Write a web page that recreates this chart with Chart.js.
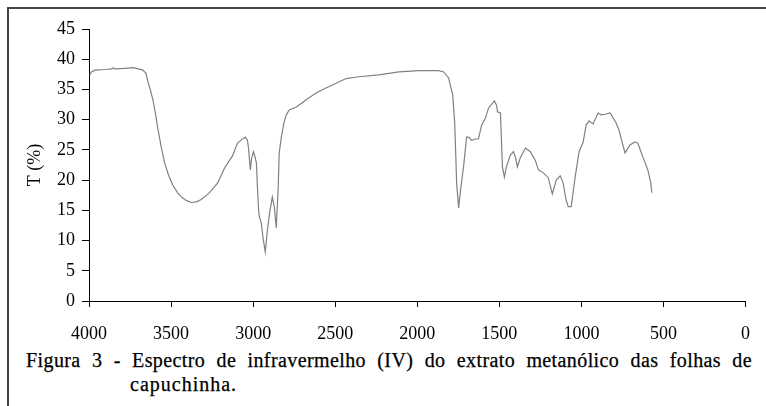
<!DOCTYPE html>
<html>
<head>
<meta charset="utf-8">
<script src="https://cdn.jsdelivr.net/npm/chart.js@4.4.0/dist/chart.umd.min.js"></script>
<style>
  body { margin: 0; background: #fff; }
  #wrap { position: relative; width: 766px; height: 406px; overflow: hidden; }
  #frame { position: absolute; left: 7px; top: 7px; width: 770px; height: 410px;
           border-top: 2px solid #444; border-left: 2px solid #444; }
  #chartBox { position: absolute; left: 0; top: 0; width: 766px; height: 345px; }
  .cap { position: absolute; font-family: "Liberation Serif", "Times New Roman", serif;
         font-size: 20px; color: #000; line-height: 24px; white-space: nowrap;
         -webkit-text-stroke: 0.25px #000; }
  #cap1 { left: 26px; top: 348px; width: 726px; text-align: justify; text-align-last: justify;
          letter-spacing: 0.4px; }
  #cap2 { left: 130px; top: 372px; letter-spacing: 1px; }
</style>
</head>
<body>
<div id="wrap">
  <div id="frame"></div>
  <div id="chartBox"><canvas id="irChart"></canvas></div>
  <div class="cap" id="cap1">Figura 3 - Espectro de infravermelho (IV) do extrato metanólico das folhas de</div>
  <div class="cap" id="cap2">capuchinha.</div>
</div>
<script>
// wavenumber (cm-1) and transmittance (%)
const wavenumbers = [
  3995, 3985, 3964, 3900, 3860, 3850, 3842, 3780, 3730, 3700, 3672, 3654, 3642, 3625, 3611,
  3595, 3581, 3560, 3539, 3515, 3490, 3460, 3436, 3405, 3377, 3345, 3316, 3270, 3217, 3174,
  3126, 3096, 3070, 3047, 3035, 3029, 3017, 3010, 2998, 2988, 2980, 2974, 2966, 2962, 2950,
  2940, 2926, 2913, 2900, 2883, 2871, 2859, 2847, 2841, 2828, 2812, 2798, 2780, 2737, 2700,
  2677, 2616, 2560, 2519, 2434, 2355, 2234, 2112, 1991, 1870, 1839, 1809, 1784, 1772, 1766,
  1760, 1748, 1736, 1718, 1699, 1687, 1669, 1645, 1627, 1608, 1584, 1566, 1530, 1517, 1511,
  1493, 1487, 1481, 1469, 1457, 1432, 1414, 1402, 1390, 1372, 1341, 1311, 1281, 1262, 1232,
  1202, 1177, 1153, 1129, 1111, 1093, 1080, 1062, 1038, 1014, 989, 971, 953, 929, 898,
  880, 856, 825, 807, 789, 771, 752, 734, 704, 674, 656, 625, 595, 577, 571
];
const transmittance = [
  37.4, 37.9, 38.2, 38.3, 38.4, 38.6, 38.4, 38.5, 38.6, 38.4, 38.2, 37.7, 36.4, 34.8, 33.3,
  31.0, 28.6, 25.5, 22.8, 20.8, 19.2, 17.9, 17.2, 16.6, 16.3, 16.4, 16.8, 17.8, 19.5, 22.0,
  24.0, 26.1, 26.7, 27.1, 26.6, 25.5, 21.7, 23.5, 24.7, 23.8, 22.8, 18.9, 14.8, 13.9, 12.9,
  10.5, 8.1, 11.7, 14.5, 17.2, 15.6, 12.1, 18.9, 24.5, 27.1, 29.5, 30.8, 31.6, 32.1, 32.8,
  33.3, 34.4, 35.2, 35.7, 36.8, 37.1, 37.4, 37.9, 38.1, 38.1, 37.9, 36.9, 34.1, 29.6, 24.7,
  19.5, 15.4, 18.4, 22.2, 27.1, 27.1, 26.6, 26.8, 26.8, 29.1, 30.3, 31.9, 33.1, 32.4, 31.3,
  31.1, 26.6, 22.2, 20.5, 22.2, 24.2, 24.7, 23.8, 22.2, 23.7, 25.3, 24.7, 23.3, 21.7, 21.2,
  20.4, 17.7, 20.0, 20.7, 19.5, 16.7, 15.6, 15.6, 20.5, 24.7, 26.3, 29.1, 29.8, 29.3, 31.1,
  30.8, 30.9, 31.1, 30.3, 29.5, 28.3, 26.3, 24.5, 25.8, 26.3, 26.1, 23.8, 21.7, 19.5, 17.9
];
const xTicks = [4000, 3500, 3000, 2500, 2000, 1500, 1000, 500, 0];
const yTicks = [0, 5, 10, 15, 20, 25, 30, 35, 40, 45];

const serif = "'Liberation Serif', 'Times New Roman', serif";
const points = wavenumbers.map((w, i) => ({ x: w, y: transmittance[i] }));

const ctxIr = document.getElementById('irChart').getContext('2d');
new Chart(ctxIr, {
    type: 'line',
    data: {
        datasets: [{
            data: points,
            borderColor: '#808080',
            borderWidth: 1.2,
            pointRadius: 0,
            tension: 0
        }]
    },
    options: {
        responsive: true,
        maintainAspectRatio: false,
        animation: false,
        layout: { padding: { top: 29, right: 18, bottom: 0, left: 0 } },
        plugins: {
            legend: { display: false },
            tooltip: { enabled: false }
        },
        scales: {
            x: {
                type: 'linear',
                reverse: true,
                min: 0,
                max: 4000,
                afterBuildTicks: (s) => { s.ticks = xTicks.map(v => ({ value: v })); },
                afterFit: (s) => { s.height = 44; },
                border: { color: '#000', width: 1 },
                grid: { drawOnChartArea: false, tickLength: 6, color: '#000' },
                ticks: {
                    color: '#000',
                    padding: 16,
                    maxRotation: 0,
                    callback: (v) => String(v),
                    font: { family: serif, size: 18 }
                }
            },
            y: {
                min: 0,
                max: 45,
                afterBuildTicks: (s) => { s.ticks = yTicks.map(v => ({ value: v })); },
                afterFit: (s) => { s.width = 89; },
                border: { color: '#000', width: 1 },
                grid: { drawOnChartArea: false, tickLength: 7, color: '#000' },
                ticks: {
                    color: '#000',
                    padding: 7,
                    callback: (v) => String(v),
                    font: { family: serif, size: 18 }
                },
                title: {
                    display: true,
                    text: 'T (%)',
                    color: '#000',
                    padding: { top: 24, bottom: 0 },
                    font: { family: serif, size: 18 }
                }
            }
        }
    }
});
</script>
</body>
</html>
